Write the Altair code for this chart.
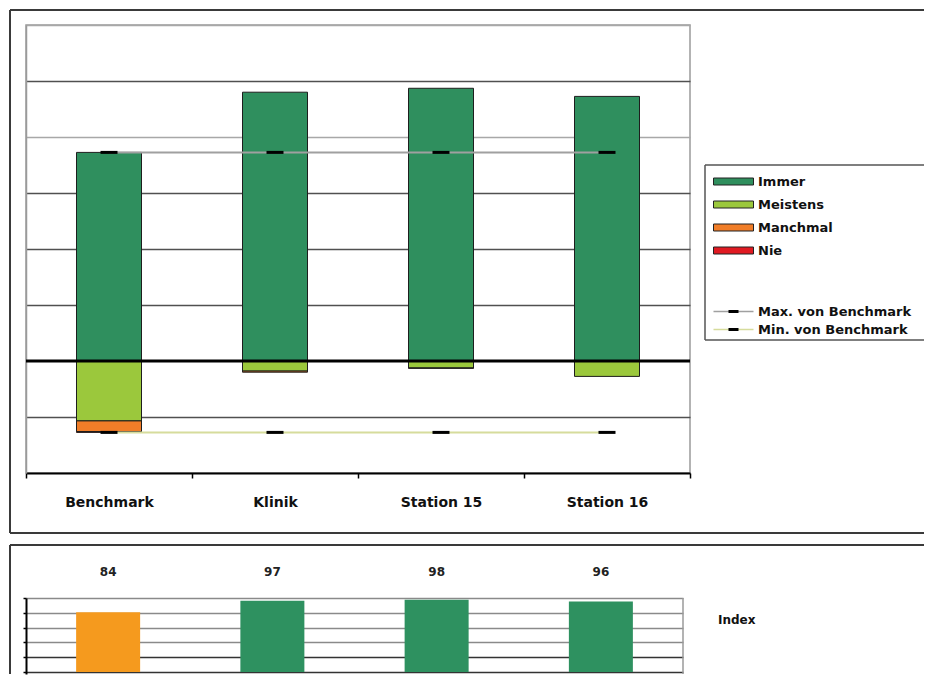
import altair as alt
import pandas as pd

# ---------------- data ----------------
categories = ["Benchmark", "Klinik", "Station 15", "Station 16"]
answers = ["Immer", "Meistens", "Manchmal", "Nie"]
immer = [74.5, 96.0, 97.4, 94.5]
meistens = [21.4, 3.6, 2.5, 5.5]
manchmal = [3.8, 0.4, 0.1, 0.0]
nie = [0.3, 0.0, 0.0, 0.0]
bench_series = ["Max. von Benchmark", "Min. von Benchmark"]
bench_codes = ["Max", "Min"]
max_benchmark = [74.5, 74.5, 74.5, 74.5]
min_benchmark = [-25.5, -25.5, -25.5, -25.5]
index_values = [84, 97, 98, 96]
index_label = "Index"
y_grid_top = [-20, 20, 40, 60, 80, 100, 120]
index_grid = [16.67, 33.33, 50, 66.67, 83.33, 100]
index_baseline = 16.67

# ---------------- styles ----------------
FONT = "DejaVu Sans"
answer_colors = ["#2f8f5e", "#9bc83c", "#f07d28", "#e01a22"]
line_colors = ["#a0a0a0", "#d6dc9c"]
DASH = "M-1,0H1"
BOX = "#3a3a3a"

# ---------------- tables ----------------
rows = []
for i, c in enumerate(categories):
    for k, (a, vals, sign) in enumerate(zip(answers, [immer, meistens, manchmal, nie], [1, -1, -1, -1])):
        rows.append({"Kategorie": c, "Antwort": a, "Wert": sign * vals[i], "Rang": k})
stack_df = pd.DataFrame(rows)

brows = []
for s, code, vals in zip(bench_series, bench_codes, [max_benchmark, min_benchmark]):
    for c, v in zip(categories, vals):
        brows.append({"Kategorie": c, "Serie": s, "Code": code, "Wert": v})
bench_df = pd.DataFrame(brows)

idx_df = pd.DataFrame({"Kategorie": categories, "Index": index_values})
one = pd.DataFrame({"r": [0]})

xscale = alt.Scale(paddingInner=0, paddingOuter=0)
legend_label = dict(labelFont=FONT, labelFontSize=13, labelFontWeight="bold",
                    labelColor="#111", labelLimit=400, padding=0, title=None, orient="none")

# ---------------- top panel ----------------
bars = alt.Chart(stack_df).transform_filter("datum.Wert != 0").mark_bar(
    size=65, stroke="#1e1e1e", strokeWidth=1
).encode(
    x=alt.X("Kategorie:N", sort=categories, scale=xscale, title=None,
            axis=alt.Axis(labelAngle=0, labelFont=FONT, labelFontSize=14, labelFontWeight="bold",
                          labelColor="#111", labelPadding=17, tickBand="extent", tickSize=5,
                          tickColor="black", tickWidth=1.5, domainColor="black", domainWidth=2)),
    y=alt.Y("Wert:Q", stack="zero", title=None,
            scale=alt.Scale(domain=[-40, 120], nice=False, zero=False),
            axis=alt.Axis(values=y_grid_top, labels=False, ticks=False, grid=True,
                          gridColor=alt.condition("datum.value == 80 || datum.value == 120",
                                                  alt.value("#a8a8a8"), alt.value("#505050")),
                          gridWidth=1.5, domainColor="#9a9a9a", domainWidth=1.5)),
    color=alt.Color("Antwort:N", scale=alt.Scale(domain=answers, range=answer_colors),
                    legend=alt.Legend(legendX=701, legendY=150,
                                      symbolType="M-4,-0.7H4V0.7H-4Z", symbolSize=100,
                                      symbolStrokeColor="#222", symbolStrokeWidth=1,
                                      labelOffset=18, rowPadding=9, **legend_label)),
    order=alt.Order("Rang:Q"),
)

zero_line = alt.Chart(pd.DataFrame({"Wert": [0]})).mark_rule(color="black", strokeWidth=3).encode(
    y=alt.Y("Wert:Q", title=None)
)

lines = alt.Chart(bench_df).mark_line(strokeWidth=2).encode(
    x=alt.X("Kategorie:N", sort=categories, title=None),
    y=alt.Y("Wert:Q", title=None),
    stroke=alt.Stroke("Serie:N", scale=alt.Scale(domain=bench_series, range=line_colors),
                      legend=alt.Legend(legendX=701, legendY=280,
                                        symbolType="M-4,0H4", symbolSize=100, symbolStrokeWidth=1.5,
                                        symbolFillColor="transparent",
                                        labelOffset=18, rowPadding=4, **legend_label)),
)

marks = alt.Chart(bench_df).mark_point(filled=False, color="black", strokeWidth=3, size=289, opacity=1).encode(
    x=alt.X("Kategorie:N", sort=categories, title=None),
    y=alt.Y("Wert:Q", title=None),
    shape=alt.Shape("Code:N", scale=alt.Scale(domain=bench_codes, range=[DASH, DASH]),
                    legend=alt.Legend(legendX=701, legendY=280, symbolSize=100,
                                      symbolStrokeColor="black", symbolStrokeWidth=3,
                                      symbolFillColor="transparent", labelExpr="''",
                                      labelOffset=18, rowPadding=4, **legend_label)),
)

def hrule(x1, x2, y, w=2, c=BOX):
    return alt.Chart(one).mark_rule(color=c, strokeWidth=w).encode(
        x=alt.value(x1), x2=alt.value(x2), y=alt.value(y))

def vrule(x, y1, y2, w=2, c=BOX):
    return alt.Chart(one).mark_rule(color=c, strokeWidth=w).encode(
        x=alt.value(x), y=alt.value(y1), y2=alt.value(y2))

top = alt.layer(
    bars, zero_line, lines, marks,
    hrule(-16, 898, -15), vrule(-16, -15, 508), hrule(-16, 898, 508),
    hrule(679, 898, 140, 1.5, "#555"), vrule(679, 140, 315, 1.5, "#555"), hrule(679, 898, 315, 1.5, "#555"),
).properties(width=664, height=448)

# ---------------- bottom panel ----------------
ibars = alt.Chart(idx_df).mark_bar(size=64).encode(
    x=alt.X("Kategorie:N", sort=categories, scale=xscale, title=None,
            axis=alt.Axis(labels=False, ticks=False, domain=False)),
    y=alt.Y("Index:Q", title=None, scale=alt.Scale(domain=[14.5, 100], nice=False, zero=False),
            axis=alt.Axis(values=index_grid, labels=False, grid=True,
                          gridColor=alt.condition("datum.value < 40", alt.value("#333333"),
                                                  alt.value("#8a8a8a")),
                          gridWidth=1.5, domainColor="black", domainWidth=2,
                          tickColor="black", tickSize=3, tickWidth=1.5)),
    y2=alt.datum(index_baseline),
    color=alt.condition(alt.datum.Kategorie == "Benchmark", alt.value("#f59a1e"), alt.value("#2e9160")),
)

ilabels = alt.Chart(idx_df).mark_text(font=FONT, fontSize=12, fontWeight="bold", color="#222",
                                       baseline="middle").encode(
    x=alt.X("Kategorie:N", sort=categories, title=None),
    y=alt.value(-26),
    text=alt.Text("Index:Q"),
)

ititle = alt.Chart(one).mark_text(font=FONT, fontSize=12, fontWeight="bold", color="#111",
                                  align="left", baseline="middle").encode(
    x=alt.value(692), y=alt.value(22), text=alt.value(index_label))

bottom = alt.layer(
    ibars, ilabels, ititle,
    vrule(657, 0, 76, 1.5, "#9a9a9a"),
    hrule(-16, 898, -53), vrule(-16, -53, 76),
).properties(width=657, height=76, view=alt.ViewBackground(stroke=None))

chart = alt.vconcat(top, bottom, spacing=9).properties(
    padding={"left": 0, "top": 0, "right": 0, "bottom": 0}, background="white"
).configure_view(stroke="#9a9a9a", strokeWidth=1.5)

chart.save("out.html", embed_options={"renderer": "svg", "actions": False})
